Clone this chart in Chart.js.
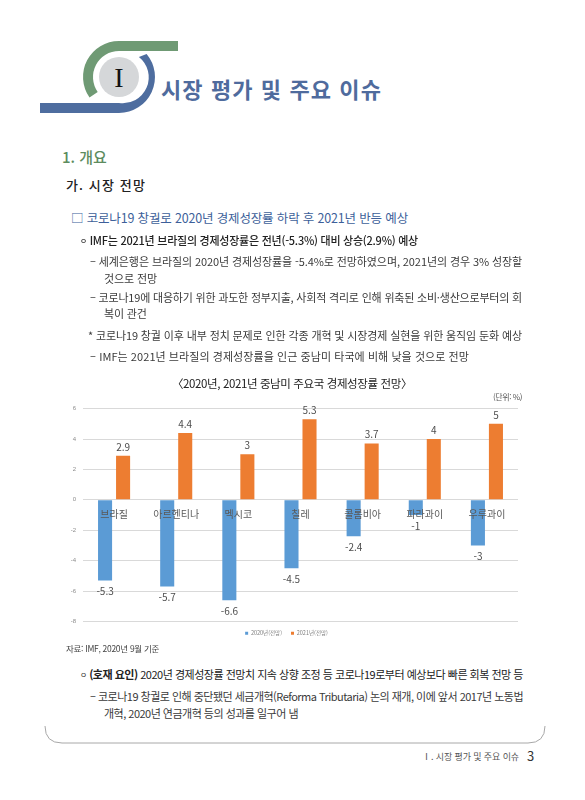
<!DOCTYPE html>
<html lang="ko">
<head>
<meta charset="utf-8">
<script src="https://cdn.jsdelivr.net/npm/chart.js@4.4.1/dist/chart.umd.min.js"></script>
<style>
  html, body { margin: 0; padding: 0; background: #fff; }
  body { width: 585px; height: 800px; position: relative; overflow: hidden;
         font-family: 'Noto Sans CJK KR', 'Noto Sans', sans-serif; }
  .t { position: absolute; white-space: nowrap; line-height: 1.2; }
  .dot { font-size: 0.7em; position: relative; top: -0.2em; }
  #chartBox { position: absolute; left: 55px; top: 398px; width: 475px; height: 248px; }
  svg { position: absolute; left: 0; top: 0; }
</style>
</head>
<body>
<svg width="585" height="800">
  <path d="M 89.5 97.6 A 36 36 0 0 1 119 41 L 178 41 L 178 51 L 119 51 A 26 26 0 0 0 97.7 91.9 Z" fill="#6f9a74"/>
  <path d="M 138.9 56.9 L 146.6 53.9 A 36 36 0 0 1 119 113 L 40 113 L 40 103 L 119 103 A 26 26 0 0 0 138.9 56.9 Z" fill="#4e6d9f"/>
  <circle cx="119" cy="77" r="20" fill="#d5d7d9"/>
  <text x="119" y="87" text-anchor="middle" font-family="'Liberation Serif', serif" font-size="28" fill="#111">I</text>
  <path d="M 45 726 Q 45 743 62 743 L 528 743 Q 545 743 545 726" fill="none" stroke="#a8a8a8" stroke-width="1"/>
</svg>

<div id="chartBox"><canvas id="chart"></canvas></div>

<script>
const countries = ['브라질', '아르헨티나', '멕시코', '칠레', '콜롬비아', '파라과이', '우루과이'];
const growth2020 = [-5.3, -5.7, -6.6, -4.5, -2.4, -1, -3];
const growth2021 = [2.9, 4.4, 3, 5.3, 3.7, 4, 5];
const seriesNames = ['2020년(전망)', '2021년(전망)'];
const yTicks = [6, 4, 2, 0, -2, -4, -6, -8];

// page text: [html, x, y(center), size, color, weight, fit width]
const lines = [
  ['시장 평가 및 주요 이슈', 161, 88, 22, '#4f6b9d', 700, 221],
  ['1. 개요', 62, 157, 15, '#5d8c5e', 500, 0],
  ['가. 시장 전망', 66, 185, 13, '#222', 500, 80],
  ['□ 코로나19 창궐로 2020년 경제성장률 하락 후 2021년 반등 예상', 71, 217, 12.5, '#3d5f9a', 400, 337],
  ['<span class="dot">ㅇ</span> IMF는 2021년 브라질의 경제성장률은 전년(-5.3%) 대비 상승(2.9%) 예상', 80, 241, 11, '#222', 500, 338],
  ['– 세계은행은 브라질의 2020년 경제성장률을 -5.4%로 전망하였으며, 2021년의 경우 3% 성장할', 90, 262, 11, '#3a3a3a', 400, 432],
  ['것으로 전망', 104, 279, 11, '#3a3a3a', 400, 0],
  ['– 코로나19에 대응하기 위한 과도한 정부지출, 사회적 격리로 인해 위축된 소비·생산으로부터의 회', 90, 298, 11, '#3a3a3a', 400, 432],
  ['복이 관건', 104, 314, 11, '#3a3a3a', 400, 0],
  ['* 코로나19 창궐 이후 내부 정치 문제로 인한 각종 개혁 및 시장경제 실현을 위한 움직임 둔화 예상', 88, 336, 11, '#3a3a3a', 400, 434],
  ['– IMF는 2021년 브라질의 경제성장률을 인근 중남미 타국에 비해 낮을 것으로 전망', 90, 357, 11, '#3a3a3a', 400, 379],
  ['〈2020년, 2021년 중남미 주요국 경제성장률 전망〉', 172, 384, 11.5, '#222', 400, 240],
  ['(단위: %)', 493, 397, 8, '#555', 400, 29],
  ['자료: IMF, 2020년 9월 기준', 66, 648, 8.5, '#444', 400, 93],
  ['<span class="dot">ㅇ</span> <b>(호재 요인)</b> 2020년 경제성장률 전망치 지속 상향 조정 등 코로나19로부터 예상보다 빠른 회복 전망 등', 80, 675, 11, '#222', 400, 443],
  ['– 코로나19 창궐로 인해 중단됐던 세금개혁(Reforma Tributaria) 논의 재개, 이에 앞서 2017년 노동법', 90, 697, 11, '#3a3a3a', 400, 433],
  ['개혁, 2020년 연금개혁 등의 성과를 일구어 냄', 104, 714, 11, '#3a3a3a', 400, 0],
  ['Ⅰ. 시장 평가 및 주요 이슈', 422, 757, 9, '#555', 400, 97],
  ['3', 527, 756, 13, '#333', 400, 0]
];

let lastSpacing = 0;
lines.forEach(([html, x, y, size, color, weight, w]) => {
  const el = document.createElement('div');
  el.className = 't';
  el.innerHTML = html;
  el.style.left = x + 'px';
  el.style.top = (y - size * 0.6) + 'px';
  el.style.fontSize = size + 'px';
  el.style.color = color;
  el.style.fontWeight = weight;
  document.body.appendChild(el);
  if (w > 0) {
    const natural = el.getBoundingClientRect().width;
    lastSpacing = (w - natural) / el.textContent.length;
    el.style.letterSpacing = lastSpacing + 'px';
  } else if (size === 11) {
    el.style.letterSpacing = lastSpacing + 'px';
  }
});

// value labels and category names, drawn over the bars
const overlayLabels = {
  id: 'overlayLabels',
  afterDatasetsDraw(chart) {
    const ctx = chart.ctx;
    const xScale = chart.scales.x;
    const zeroY = chart.scales.y.getPixelForValue(0);
    ctx.save();
    ctx.textAlign = 'center';
    ctx.textBaseline = 'middle';
    ctx.font = "10px 'Noto Sans CJK KR', sans-serif";
    ctx.fillStyle = '#4d4d4d';
    chart.data.datasets.forEach((ds, i) => {
      chart.getDatasetMeta(i).data.forEach((bar, j) => {
        const v = ds.data[j];
        const y = v >= 0 ? bar.y - 9 : bar.y + 11;
        ctx.fillText(String(v), bar.x, y);
      });
    });
    ctx.font = "10px 'Noto Sans CJK KR', sans-serif";
    ctx.fillStyle = '#595959';
    chart.data.labels.forEach((label, j) => {
      ctx.fillText(label, xScale.getPixelForValue(j), zeroY + 14);
    });
    ctx.restore();
  }
};

Chart.defaults.font.family = "'Noto Sans CJK KR', sans-serif";

new Chart(document.getElementById('chart'), {
  type: 'bar',
  data: {
    labels: countries,
    datasets: [{
      label: seriesNames[0],
      data: growth2020,
      backgroundColor: '#5b9bd5'
    }, {
      label: seriesNames[1],
      data: growth2021,
      backgroundColor: '#ed7d31'
    }]
  },
  options: {
    responsive: true,
    maintainAspectRatio: false,
    animation: false,
    categoryPercentage: 0.58,
    barPercentage: 0.78,
    layout: { padding: { top: 10, right: 12, left: 0, bottom: 0 } },
    scales: {
      x: {
        position: { y: 0 },
        grid: { display: false },
        border: { display: false },
        ticks: { display: false }
      },
      y: {
        min: -8,
        max: 6,
        afterBuildTicks: (scale) => { scale.ticks = yTicks.map(v => ({ value: v })); },
        afterFit: (scale) => { scale.width = 28; },
        grid: { color: '#d9d9d9', drawTicks: false },
        border: { display: false },
        ticks: {
          color: '#8c8c8c',
          font: { size: 6, family: "'Liberation Sans', sans-serif" },
          padding: 7,
          callback: (v) => String(v)
        }
      }
    },
    plugins: {
      legend: {
        position: 'bottom',
        labels: { boxWidth: 3, boxHeight: 3, color: '#7f7f7f', font: { size: 5.5 }, padding: 9 }
      },
      tooltip: { enabled: false }
    }
  },
  plugins: [overlayLabels]
});
</script>
</body>
</html>
